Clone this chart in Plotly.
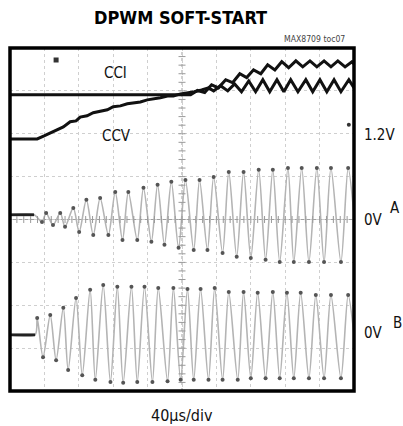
import plotly.graph_objects as go
import numpy as np

# ---- data (x in time divisions, y in screen divisions) ----
cci_t = [0, 1.46, 3.21, 4.96, 5.25, 5.45, 5.66, 5.86, 6.06, 6.27, 6.47, 6.68, 6.88, 7.08, 7.29,
         7.49, 7.70, 7.90, 8.10, 8.31, 8.51, 8.72, 8.92, 9.13, 9.33, 9.53, 9.74, 9.94, 10]
cci_v = [6.91, 6.91, 6.91, 6.91, 6.91, 7.01, 6.96, 7.14, 7.07, 7.26, 7.19, 7.40, 7.31, 7.49, 7.40,
         7.61, 7.49, 7.68, 7.54, 7.70, 7.56, 7.70, 7.56, 7.70, 7.56, 7.70, 7.56, 7.68, 7.63]

ccv_t = [0, 0.79, 0.99, 1.17, 1.37, 1.55, 1.75, 1.92, 2.04, 2.24, 2.42, 2.62, 2.83, 3.00, 3.21,
         3.41, 3.59, 3.79, 3.99, 4.17, 4.37, 4.58, 4.75, 4.96, 5.16, 5.36, 5.57, 5.77, 5.92, 6.12,
         6.33, 6.53, 6.73, 6.94, 7.14, 7.35, 7.55, 7.76, 7.96, 8.16, 8.37, 8.60, 8.80, 9.01, 9.21,
         9.42, 9.62, 9.85, 10]
ccv_v = [5.88, 5.88, 5.95, 6.02, 6.09, 6.16, 6.28, 6.30, 6.39, 6.42, 6.49, 6.53, 6.56, 6.63, 6.65,
         6.70, 6.72, 6.74, 6.79, 6.81, 6.84, 6.88, 6.88, 6.93, 6.95, 6.98, 7.02, 7.07, 7.00, 7.12,
         7.00, 7.16, 6.98, 7.23, 6.98, 7.26, 6.98, 7.26, 6.98, 7.26, 6.98, 7.26, 6.98, 7.26, 6.98,
         7.26, 6.98, 7.26, 7.07]

a_t = [0, 0.70, 0.93, 1.05, 1.25, 1.46, 1.60, 1.84, 2.01, 2.22, 2.42, 2.62, 2.86, 3.06, 3.27,
       3.44, 3.70, 3.88, 4.11, 4.29, 4.49, 4.69, 4.90, 5.10, 5.34, 5.51, 5.74, 5.92, 6.18, 6.36,
       6.59, 6.79, 7.00, 7.23, 7.43, 7.64, 7.84, 8.08, 8.25, 8.48, 8.69, 8.92, 9.13, 9.33, 9.62,
       9.83, 10]
a_v = [4.11, 4.11, 3.94, 4.15, 3.87, 4.15, 3.83, 4.27, 3.71, 4.46, 3.64, 4.50, 3.64, 4.64, 3.52,
       4.64, 3.52, 4.74, 3.48, 4.81, 3.41, 4.88, 3.34, 4.92, 3.29, 4.92, 3.29, 4.99, 3.22, 5.11,
       3.13, 5.11, 3.10, 5.16, 3.06, 5.16, 3.01, 5.20, 3.01, 5.20, 3.01, 5.20, 3.01, 5.20, 3.01,
       5.20, 4.10]

b_t = [0, 0.73, 0.79, 0.96, 1.17, 1.34, 1.55, 1.69, 1.92, 2.10, 2.33, 2.48, 2.71, 2.92, 3.12,
       3.29, 3.53, 3.70, 3.91, 4.14, 4.31, 4.58, 4.75, 4.96, 5.16, 5.34, 5.54, 5.77, 5.95, 6.18,
       6.36, 6.62, 6.79, 7.00, 7.20, 7.43, 7.64, 7.84, 8.05, 8.25, 8.45, 8.69, 8.89, 9.13, 9.33,
       9.62, 9.83, 10]
b_v = [1.31, 1.31, 1.70, 0.79, 1.77, 0.72, 1.94, 0.49, 2.17, 0.37, 2.36, 0.26, 2.47, 0.21, 2.43,
       0.19, 2.43, 0.21, 2.43, 0.21, 2.40, 0.23, 2.40, 0.26, 2.38, 0.26, 2.38, 0.26, 2.40, 0.26,
       2.31, 0.26, 2.31, 0.30, 2.29, 0.30, 2.31, 0.30, 2.29, 0.30, 2.29, 0.30, 2.24, 0.30, 2.24,
       0.30, 2.24, 1.31]

trigger_t, trigger_v = [1.34], [7.72]
level_t, level_v = [9.85], [6.21]

FONT = "Liberation Sans Narrow, Arial Narrow, DejaVu Sans Condensed, sans-serif"

fig = go.Figure()

# switching waveforms (light persistence trace with dark extremes)
for t, v in ((a_t, a_v), (b_t, b_v)):
    fig.add_trace(go.Scatter(x=t, y=v, mode="lines",
                             line=dict(color="#b4b4b4", width=1.6, shape="spline", smoothing=0.8),
                             hoverinfo="skip", showlegend=False))
    fig.add_trace(go.Scatter(x=t[2:-1], y=v[2:-1], mode="markers",
                             marker=dict(color="#555555", size=4),
                             hoverinfo="skip", showlegend=False))
    fig.add_trace(go.Scatter(x=t[:2], y=v[:2], mode="lines",
                             line=dict(color="#222222", width=2.8),
                             hoverinfo="skip", showlegend=False))

for t, v in ((ccv_t, ccv_v), (cci_t, cci_v)):
    fig.add_trace(go.Scatter(x=t, y=v, mode="lines",
                             line=dict(color="#111111", width=3),
                             hoverinfo="skip", showlegend=False))

fig.add_trace(go.Scatter(x=trigger_t, y=trigger_v, mode="markers",
                         marker=dict(color="#333333", size=5, symbol="square"),
                         hoverinfo="skip", showlegend=False))
fig.add_trace(go.Scatter(x=level_t, y=level_v, mode="markers",
                         marker=dict(color="#333333", size=4),
                         hoverinfo="skip", showlegend=False))

# centre graticule tick marks
minor = np.arange(0, 10.01, 0.2)
fig.add_trace(go.Scatter(x=minor, y=[4] * len(minor), mode="markers",
                         marker=dict(symbol="line-ns", size=5, line=dict(color="#9a9a9a", width=1)),
                         hoverinfo="skip", showlegend=False))
minor_y = np.arange(0, 8.01, 0.2)
fig.add_trace(go.Scatter(x=[5] * len(minor_y), y=minor_y, mode="markers",
                         marker=dict(symbol="line-ew", size=5, line=dict(color="#9a9a9a", width=1)),
                         hoverinfo="skip", showlegend=False))

shapes = [
    dict(type="line", xref="x", yref="y", x0=0, x1=10, y0=4, y1=4,
         line=dict(color="#a0a0a0", width=1), layer="below"),
    dict(type="line", xref="x", yref="y", x0=5, x1=5, y0=0, y1=8,
         line=dict(color="#a0a0a0", width=1, dash="dot"), layer="below"),
    dict(type="rect", xref="paper", yref="paper", x0=0, x1=1, y0=0, y1=1,
         line=dict(color="#000000", width=3.5)),
]

def txt(x, y, s, size=15, anchor="center", bold=False, color="#111111", ref="paper"):
    return dict(x=x, y=y, xref="x" if ref == "data" else "paper",
                yref="y" if ref == "data" else "paper",
                text=f"<b>{s}</b>" if bold else s,
                showarrow=False, xanchor=anchor, yanchor="middle",
                font=dict(family=FONT, size=size, color=color))

annotations = [
    txt(0.497, 1.090, "DPWM SOFT-START", size=18, bold=True, color="#000000"),
    txt(0.980, 1.026, "MAX8709 toc07", size=8.6, anchor="right", color="#444444"),
    txt(3.06, 7.42, "CCI", ref="data"),
    txt(3.09, 5.95, "CCV", ref="data"),
    txt(1.023, 0.746, "1.2V", anchor="left"),
    txt(1.023, 0.499, "0V", anchor="left"),
    txt(1.119, 0.534, "A"),
    txt(1.023, 0.169, "0V", anchor="left"),
    txt(1.125, 0.198, "B"),
    txt(0.5, -0.070, "40µs/div", size=16),
]

fig.update_layout(
    width=403, height=426,
    margin=dict(l=10, r=49, t=48, b=35),
    paper_bgcolor="white", plot_bgcolor="white",
    shapes=shapes, annotations=annotations,
    xaxis=dict(range=[0, 10], dtick=1, showgrid=True, gridcolor="#cfcfcf", griddash="dot",
               gridwidth=1, showticklabels=False, zeroline=False, ticks="", fixedrange=True),
    yaxis=dict(range=[0, 8], dtick=1, showgrid=True, gridcolor="#cfcfcf", griddash="dot",
               gridwidth=1, showticklabels=False, zeroline=False, ticks="", fixedrange=True),
)

fig.write_html("out.html", config={"displayModeBar": False},
               post_script="document.body.style.margin='0';")
